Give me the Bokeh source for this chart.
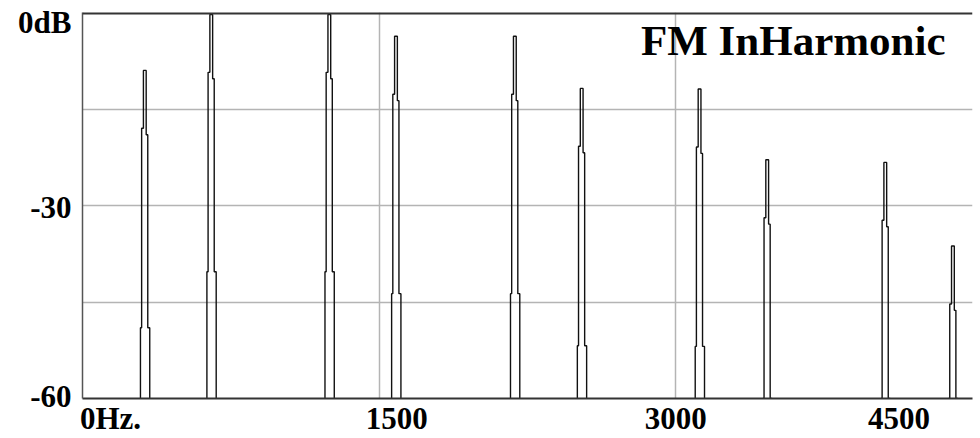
from bokeh.plotting import figure
from bokeh.models import Range1d, FixedTicker, Label, Span, ColumnDataSource
from bokeh.embed import file_html
from bokeh.resources import INLINE

# ---- data ----
peak_freq_hz = [316, 652, 1249, 1586, 2187, 2525, 3121, 3463, 4060, 4402]
peak_level_db = [-9.0, -0.3, -0.3, -3.7, -3.7, -11.8, -11.9, -22.9, -23.3, -36.3]

x_ticks = [0, 1500, 3000, 4500]
x_tick_labels = ["0Hz.", "1500", "3000", "4500"]
y_ticks = [0, -30, -60]
y_tick_labels = ["0dB", "-30", "-60"]
x_grid = [1500, 3000, 4500]
y_grid = [-15, -30, -45]
title_text = "FM InHarmonic"

# ---- style constants ----
SHAPE_DX = [-23, -23, -17, -17, -8, -8, 6, 6, 14, 14, 24, 24]      # Hz offsets of a drawn line
SHAPE_DROP = [None, 40, 40, 9, 9, 0, 0, 10, 10, 40, 40, None]       # dB below peak
FLOOR = -60
FONT = "Liberation Serif"
X0, X1, Y0, Y1 = 0, 4500, -60, 0
FRAME_W, FRAME_H = 890, 387
HZ_PER_PX = (X1 - X0) / FRAME_W
DB_PER_PX = (Y1 - Y0) / FRAME_H
# label placement offsets in pixels (how the original positions its tick texts)
X_LABEL_SHIFT_PX = [28, 17.5, 0, -73.5]
Y_LABEL_SHIFT_PX = [-10, -2, 2]

xs, ys = [], []
for f, lvl in zip(peak_freq_hz, peak_level_db):
    xs.append([f + d for d in SHAPE_DX])
    ys.append([FLOOR if d is None else max(FLOOR, lvl - d) for d in SHAPE_DROP])
src = ColumnDataSource(dict(xs=xs, ys=ys))

p = figure(width=980, height=438, output_backend="svg", toolbar_location=None,
           x_range=Range1d(X0, X1), y_range=Range1d(Y0, Y1),
           min_border_left=82, min_border_right=8, min_border_top=12, min_border_bottom=39)
p.outline_line_color = None
p.background_fill_color = "white"
p.border_fill_color = "white"

xt = [v + s * HZ_PER_PX for v, s in zip(x_ticks, X_LABEL_SHIFT_PX)]
yt = [v + s * DB_PER_PX for v, s in zip(y_ticks, Y_LABEL_SHIFT_PX)]

xa = p.xaxis[0]
xa.ticker = FixedTicker(ticks=xt)
xa.major_label_overrides = {v: t for v, t in zip(xt, x_tick_labels)}
xa.major_label_standoff = 2
ya = p.yaxis[0]
ya.ticker = FixedTicker(ticks=yt)
ya.major_label_overrides = {v: t for v, t in zip(yt, y_tick_labels)}
ya.major_label_standoff = 11

for ax in (xa, ya):
    ax.major_tick_line_color = None
    ax.minor_tick_line_color = None
    ax.major_tick_out = 0
    ax.major_tick_in = 0
    ax.major_label_text_font = FONT
    ax.major_label_text_font_style = "bold"
    ax.major_label_text_font_size = "31px"
    ax.major_label_text_color = "black"
xa.axis_line_color = "#333333"
xa.axis_line_width = 2
ya.axis_line_color = "#555555"
ya.axis_line_width = 1.5

p.xgrid.ticker = FixedTicker(ticks=x_grid)
p.ygrid.ticker = FixedTicker(ticks=y_grid)
for g in (p.xgrid[0], p.ygrid[0]):
    g.grid_line_color = "#b4b4b4"
    g.grid_line_width = 1.5

p.add_layout(Span(location=Y1, dimension="width", line_color="#333333", line_width=4))

p.multi_line(xs="xs", ys="ys", source=src, line_color="#111111", line_width=1.4)

p.add_layout(Label(x=X1, y=Y1, text=title_text, x_offset=-27, y_offset=-28,
                   text_align="right", text_baseline="alphabetic",
                   text_font=FONT, text_font_style="bold", text_font_size="43px",
                   text_color="black"))

open("out.html", "w").write(file_html(p, INLINE))
